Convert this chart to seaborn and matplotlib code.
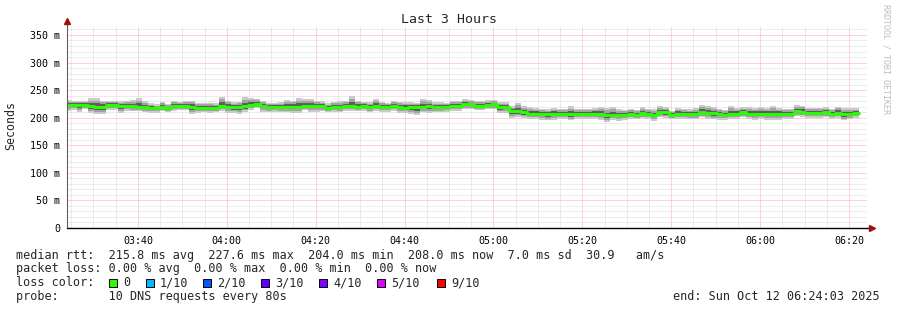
import numpy as np
import pandas as pd
import matplotlib
matplotlib.use("Agg")
import matplotlib.pyplot as plt
import seaborn as sns
from matplotlib.patches import Rectangle

# ---------------- data ----------------
median_ms = [
    223, 223, 223, 223, 223, 221, 219, 220, 223, 223, 221, 222, 221, 219, 219, 218, 217,
    220, 217, 222, 222, 222, 220, 218, 218, 218, 218, 222, 220, 219, 220, 221, 223, 225,
    222, 219, 219, 219, 220, 220, 220, 222, 222, 222, 221, 218, 220, 219, 222, 222, 220,
    221, 219, 222, 220, 219, 222, 220, 218, 219, 219, 219, 221, 219, 219, 219, 222, 222,
    224, 224, 222, 222, 223, 224, 219, 220, 212, 212, 210, 207, 207, 207, 206, 207, 207,
    207, 206, 207, 207, 207, 207, 207, 204, 205, 205, 205, 207, 205, 208, 207, 205, 210,
    210, 205, 207, 207, 206, 206, 210, 209, 208, 207, 205, 207, 207, 210, 207, 207, 207,
    207, 207, 207, 207, 207, 212, 211, 209, 209, 209, 210, 207, 209, 206, 206, 208,
]
smoke_up_ms = [
    9, 9, 8, 8, 8, 14, 17, 11, 8, 8, 9, 8, 11, 17, 11, 8, 7, 9, 8, 8, 7, 8, 11, 9, 9, 9, 8,
    16, 11, 9, 9, 16, 12, 9,
    9, 8, 8, 9, 12, 11, 15, 11, 11, 9, 9, 8, 9, 11, 9, 17, 11, 8, 9, 11, 9, 8, 9, 9, 11, 9,
    8, 15, 11, 9, 9, 8, 9, 9,
    9, 8, 8, 9, 9, 8, 9, 8, 9, 15, 11, 13, 11, 9, 9, 11, 9, 9, 15, 9, 9, 9, 11, 13, 13, 15,
    11, 9, 9, 9, 11, 9, 11, 11,
    9, 8, 11, 9, 9, 11, 13, 13, 11, 9, 9, 15, 11, 9, 13, 11, 13, 11, 15, 11, 9, 9, 11, 11,
    9, 9, 9, 9, 9, 11, 11, 11, 9,
]
smoke_down_ms = [
    13, 11, 9, 12, 8, 13, 13, 13, 9, 9, 12, 9, 9, 7, 9, 9, 8, 8, 7, 9, 8, 8, 13, 9, 8, 9, 8,
    9, 11, 11, 13, 11, 9, 8,
    11, 9, 8, 9, 10, 11, 11, 8, 11, 11, 9, 8, 9, 9, 9, 9, 8, 8, 9, 9, 9, 8, 9, 11, 9, 13,
    15, 9, 13, 9, 9, 8, 9, 9,
    8, 9, 8, 8, 8, 9, 11, 11, 13, 11, 11, 9, 9, 11, 11, 11, 9, 9, 11, 9, 9, 9, 9, 11, 11,
    9, 11, 9, 9, 8, 9, 9, 11, 9,
    11, 8, 9, 9, 9, 9, 9, 11, 11, 11, 9, 9, 9, 9, 9, 11, 9, 11, 11, 11, 9, 9, 9, 9, 9, 9,
    9, 9, 9, 9, 11, 9, 8,
]
step_min = 80 / 60.0          # one probe round every 80 s
last_step_end_min = 382.2     # minutes after midnight
x_start_min, x_end_min = 204.05, 384.05   # 03:24:03 .. 06:24:03
x_tick_minutes = [220, 240, 260, 280, 300, 320, 340, 360, 380]
x_tick_labels = ["03:40", "04:00", "04:20", "04:40", "05:00", "05:20", "05:40", "06:00", "06:20"]
y_ticks = [0, 50, 100, 150, 200, 250, 300, 350]
y_max = 365

title = "Last 3 Hours"
line_rtt = "median rtt:  215.8 ms avg  227.6 ms max  204.0 ms min  208.0 ms now  7.0 ms sd  30.9   am/s"
line_loss = "packet loss: 0.00 % avg  0.00 % max  0.00 % min  0.00 % now"
line_color = "loss color:"
loss_labels = ["0", "1/10", "2/10", "3/10", "4/10", "5/10", "9/10"]
loss_colors = ["#26ff00", "#00b8ff", "#0059ff", "#5e00ff", "#7e00ff", "#dd00ff", "#ff0000"]
line_probe = "probe:       10 DNS requests every 80s"
line_end = "end: Sun Oct 12 06:24:03 2025"
side_text = "RRDTOOL / TOBI OETIKER"

# ---------------- figure ----------------
sns.set_style("white")
W, H = 897, 310
mono = "DejaVu Sans Mono"
plt.rcParams["font.family"] = [mono, "DejaVu Sans"]

fig = plt.figure(figsize=(W / 100, H / 100), dpi=100)
fig.patch.set_facecolor("white")
ax = fig.add_axes([67 / W, 1 - 228 / H, 800 / W, (228 - 26.7) / H])
ax.set_facecolor("white")

n = len(median_ms)
med = np.array(median_ms, float)
up = np.array(smoke_up_ms, float)
dn = np.array(smoke_down_ms, float)
t0 = last_step_end_min - n * step_min
edges = t0 + np.arange(n + 1) * step_min

def ext(a):
    return np.append(a, a[-1])

# smoke layers (outer pings light, inner pings dark)
for frac, col in [(1.0, "#cacaca"), (0.7, "#a3a3a3"), (0.4, "#5e5e5e")]:
    ax.fill_between(edges, ext(med + frac * up), ext(med - frac * dn), step="post",
                    color=col, lw=0, zorder=2)

df = pd.DataFrame({"t": edges, "rtt": ext(med)})
sns.lineplot(data=df, x="t", y="rtt", ax=ax, drawstyle="steps-post",
             color=loss_colors[0], lw=2.1, zorder=3, estimator=None)

ax.set_xlim(x_start_min, x_end_min)
ax.set_ylim(0, y_max)
ax.set_xlabel("")
ax.set_ylabel("")

# ticks & grid
ax.set_yticks(y_ticks)
ax.set_yticklabels(["0" if v == 0 else f"{v} m" for v in y_ticks])
ax.set_yticks([v for v in range(10, y_max, 10) if v % 50], minor=True)
ax.set_xticks(x_tick_minutes)
ax.set_xticklabels(x_tick_labels)
ax.set_xticks([m for m in range(205, 385, 5) if m % 20], minor=True)
ax.tick_params(axis="y", which="major", length=3, width=0.7, color="#777777", pad=2,
               labelsize=7.2, labelcolor="black")
ax.tick_params(axis="x", which="major", length=0, pad=5.5, labelsize=7.2, labelcolor="black")
ax.tick_params(which="minor", length=0)
for lab in ax.get_xticklabels() + ax.get_yticklabels():
    lab.set_family(mono)

ax.set_axisbelow(True)
ax.grid(which="minor", color="#d9d9d9", lw=0.72, ls=(0, (1, 1)), zorder=0)
ax.grid(which="major", color="#ffa8a8", lw=0.72, ls=(0, (1, 1)), zorder=0)

for s in ax.spines.values():
    s.set_visible(False)
# axis lines with arrows
ax.plot([0, 0], [0, 1.03], transform=ax.transAxes, color="#606060", lw=0.8, clip_on=False, zorder=4)
ax.plot([0, 1.003], [0, 0], transform=ax.transAxes, color="black", lw=1.0, clip_on=False, zorder=4)
ax.plot([0], [1.03], marker="^", ms=4.5, color="#9b1010", transform=ax.transAxes,
        clip_on=False, zorder=5, mec="#9b1010")
ax.plot([1.006], [0], marker=">", ms=4.5, color="#9b1010", transform=ax.transAxes,
        clip_on=False, zorder=5, mec="#9b1010")

# texts
def ftext(x, y, s, **kw):
    fig.text(x / W, 1 - y / H, s, **kw)

ftext(448.5, 19.5, title, ha="center", va="center", size=9.5, family=mono)
ftext(11, 126, "Seconds", ha="center", va="center", rotation=90, size=8.4, family=mono)
ftext(886, 4, side_text, ha="center", va="top", rotation=270, size=6, color="#bcbcbc", family=mono)

leg_size = 8.45
ftext(16, 258.5, line_rtt, ha="left", va="baseline", size=leg_size, family=mono)
ftext(16, 272.3, line_loss, ha="left", va="baseline", size=leg_size, family=mono)
ftext(16, 286.2, line_color, ha="left", va="baseline", size=leg_size, family=mono)
ftext(16, 300.0, line_probe, ha="left", va="baseline", size=leg_size, family=mono)
ftext(880, 300.0, line_end, ha="right", va="baseline", size=leg_size, family=mono)

box_x = [109, 146, 203, 261, 319, 377, 437]
for bx, lab, col in zip(box_x, loss_labels, loss_colors):
    fig.patches.append(Rectangle((bx / W, 1 - 287 / H), 8 / W, 8 / H, transform=fig.transFigure,
                                 facecolor=col, edgecolor="black", lw=0.7))
    ftext(bx + 14, 286.2, lab, ha="left", va="baseline", size=leg_size, family=mono)

fig.savefig("out.png", dpi=100, facecolor="white")
